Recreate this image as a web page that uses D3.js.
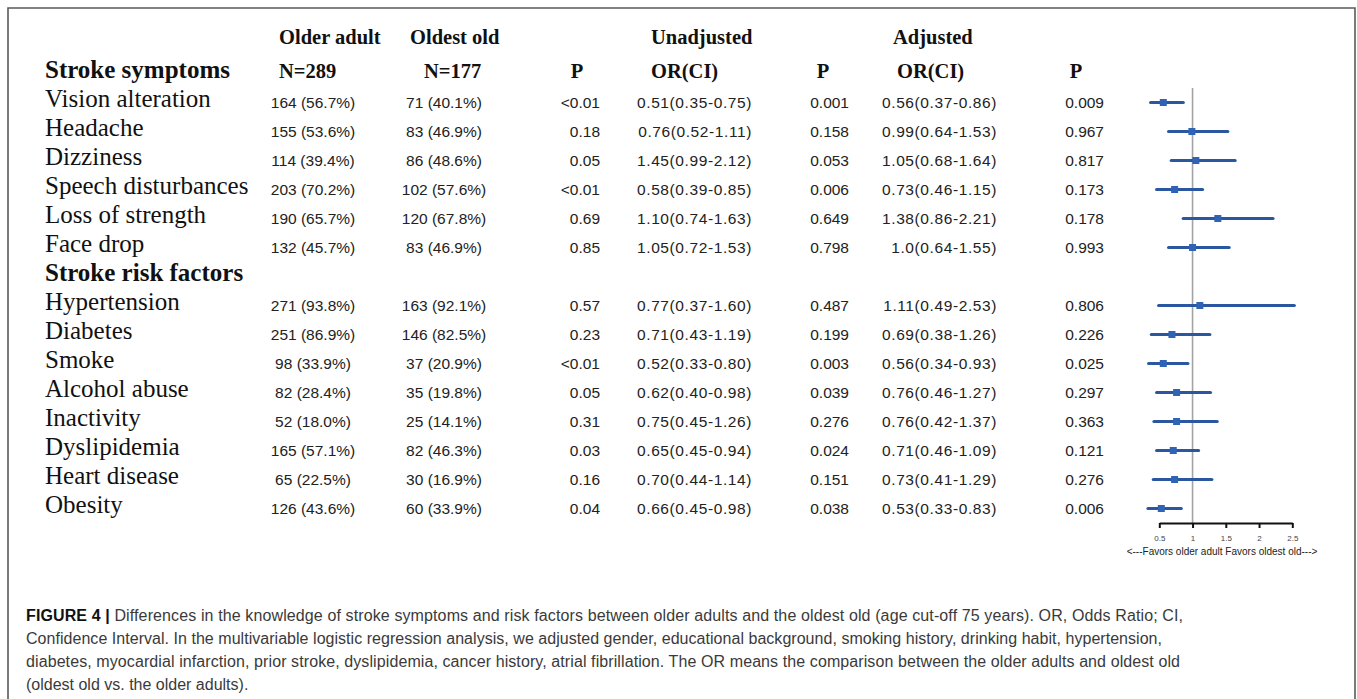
<!DOCTYPE html>
<html>
<head>
<meta charset="utf-8">
<script src="https://cdn.jsdelivr.net/npm/d3@7/dist/d3.min.js"></script>
<style>
  html, body { margin: 0; padding: 0; background: #fff; }
  svg { display: block; }
  .serif { font-family: "Liberation Serif", "Times New Roman", serif; fill: #111; }
  .sans { font-family: "Liberation Sans", Arial, sans-serif; fill: #222; }
  .cap { font-family: "Liberation Sans", Arial, sans-serif; fill: #3a3a3a; }
</style>
</head>
<body>
<svg id="chart" width="1357" height="699"></svg>
<script>
// ---- data ----
const symptoms = ["Vision alteration", "Headache", "Dizziness", "Speech disturbances", "Loss of strength", "Face drop"];
const riskFactors = ["Hypertension", "Diabetes", "Smoke", "Alcohol abuse", "Inactivity", "Dyslipidemia", "Heart disease", "Obesity"];
const sectionTitles = ["Stroke symptoms", "Stroke risk factors"];

const olderAdultCount = [164, 155, 114, 203, 190, 132, 271, 251, 98, 82, 52, 165, 65, 126];
const olderAdultPct = ["56.7", "53.6", "39.4", "70.2", "65.7", "45.7", "93.8", "86.9", "33.9", "28.4", "18.0", "57.1", "22.5", "43.6"];
const oldestOldCount = [71, 83, 86, 102, 120, 83, 163, 146, 37, 35, 25, 82, 30, 60];
const oldestOldPct = ["40.1", "46.9", "48.6", "57.6", "67.8", "46.9", "92.1", "82.5", "20.9", "19.8", "14.1", "46.3", "16.9", "33.9"];
const pCrude = ["<0.01", "0.18", "0.05", "<0.01", "0.69", "0.85", "0.57", "0.23", "<0.01", "0.05", "0.31", "0.03", "0.16", "0.04"];

const unadjOR = ["0.51", "0.76", "1.45", "0.58", "1.10", "1.05", "0.77", "0.71", "0.52", "0.62", "0.75", "0.65", "0.70", "0.66"];
const unadjLo = ["0.35", "0.52", "0.99", "0.39", "0.74", "0.72", "0.37", "0.43", "0.33", "0.40", "0.45", "0.45", "0.44", "0.45"];
const unadjHi = ["0.75", "1.11", "2.12", "0.85", "1.63", "1.53", "1.60", "1.19", "0.80", "0.98", "1.26", "0.94", "1.14", "0.98"];
const unadjP = ["0.001", "0.158", "0.053", "0.006", "0.649", "0.798", "0.487", "0.199", "0.003", "0.039", "0.276", "0.024", "0.151", "0.038"];

const adjOR = ["0.56", "0.99", "1.05", "0.73", "1.38", "1.0", "1.11", "0.69", "0.56", "0.76", "0.76", "0.71", "0.73", "0.53"];
const adjLo = ["0.37", "0.64", "0.68", "0.46", "0.86", "0.64", "0.49", "0.38", "0.34", "0.46", "0.42", "0.46", "0.41", "0.33"];
const adjHi = ["0.86", "1.53", "1.64", "1.15", "2.21", "1.55", "2.53", "1.26", "0.93", "1.27", "1.37", "1.09", "1.29", "0.83"];
const adjP = ["0.009", "0.967", "0.817", "0.173", "0.178", "0.993", "0.806", "0.226", "0.025", "0.297", "0.363", "0.121", "0.276", "0.006"];

const orTicks = [0.5, 1, 1.5, 2, 2.5];
const favorsLabel = "<---Favors older adult  Favors oldest old--->";

const captionLines = [
  ["FIGURE 4 |", " Differences in the knowledge of stroke symptoms and risk factors between older adults and the oldest old (age cut-off 75 years). OR, Odds Ratio; CI,"],
  ["", "Confidence Interval. In the multivariable logistic regression analysis, we adjusted gender, educational background, smoking history, drinking habit, hypertension,"],
  ["", "diabetes, myocardial infarction, prior stroke, dyslipidemia, cancer history, atrial fibrillation. The OR means the comparison between the older adults and oldest old"],
  ["", "(oldest old vs. the older adults)."]
];

// ---- layout ----
const svg = d3.select("#chart");
const W = 1357, H = 699;

// frame around the figure
svg.append("path")
  .attr("d", `M8,${H} L8,8 L1355,8 L1355,${H}`)
  .attr("fill", "none").attr("stroke", "#5a5a5a").attr("stroke-width", 1.6);

const rows = symptoms.concat(riskFactors);
// row slots: the risk-factor heading takes one slot between the two blocks
const slots = [...symptoms, "__risk", ...riskFactors];
const y = d3.scalePoint().domain(slots).range([102.5, 508.5]);
const rowY = i => y(rows[i]);

// column anchors
const cols = {
  label: 45,
  older: 313,
  oldest: 444,
  p1: 600,
  or1: 752,
  p2: 849,
  or2: 997,
  p3: 1104
};

// header
const head = svg.append("g").attr("class", "serif").attr("font-weight", "bold").attr("font-size", 20.5);
const h1 = 44, h2 = 78;
head.append("text").attr("x", 279).attr("y", h1).text("Older adult");
head.append("text").attr("x", 410).attr("y", h1).text("Oldest old");
head.append("text").attr("x", 651).attr("y", h1).text("Unadjusted");
head.append("text").attr("x", 893).attr("y", h1).text("Adjusted");
head.append("text").attr("x", 279).attr("y", h2).text("N=289");
head.append("text").attr("x", 424).attr("y", h2).text("N=177");
head.append("text").attr("x", 577).attr("y", h2).attr("text-anchor", "middle").text("P");
head.append("text").attr("x", 651).attr("y", h2).text("OR(CI)");
head.append("text").attr("x", 823).attr("y", h2).attr("text-anchor", "middle").text("P");
head.append("text").attr("x", 897).attr("y", h2).text("OR(CI)");
head.append("text").attr("x", 1076).attr("y", h2).attr("text-anchor", "middle").text("P");

// section headings
svg.append("text").attr("class", "serif").attr("font-weight", "bold").attr("font-size", 25)
  .attr("x", cols.label).attr("y", h2).text(sectionTitles[0]);
svg.append("text").attr("class", "serif").attr("font-weight", "bold").attr("font-size", 25)
  .attr("x", cols.label).attr("y", y("__risk") - 4 + 8.3).text(sectionTitles[1]);

// row labels
svg.append("g").selectAll("text").data(rows).join("text")
  .attr("class", "serif").attr("font-size", 25)
  .attr("x", cols.label).attr("y", (d, i) => rowY(i) - 4 + 8.3)
  .text(d => d);

// data cells
const cells = svg.append("g").attr("class", "sans").attr("font-size", 15.5);
function column(values, x, anchor, spacing) {
  cells.append("g").selectAll("text").data(values).join("text")
    .attr("x", x).attr("y", (d, i) => rowY(i) + 5.9)
    .attr("text-anchor", anchor)
    .attr("letter-spacing", spacing || null)
    .text(d => d);
}
column(olderAdultCount.map((n, i) => `${n} (${olderAdultPct[i]}%)`), cols.older, "middle");
column(oldestOldCount.map((n, i) => `${n} (${oldestOldPct[i]}%)`), cols.oldest, "middle");
column(pCrude, cols.p1, "end");
column(unadjOR.map((v, i) => `${v}(${unadjLo[i]}-${unadjHi[i]})`), cols.or1, "end", 0.6);
column(unadjP, cols.p2, "end");
column(adjOR.map((v, i) => `${v}(${adjLo[i]}-${adjHi[i]})`), cols.or2, "end", 0.6);
column(adjP, cols.p3, "end");

// ---- forest plot of adjusted odds ratios ----
const x = d3.scaleLinear().domain([0.5, 2.5]).range([1159.3, 1292.3]);
const axisY = 523;

svg.append("line")
  .attr("x1", x(1)).attr("x2", x(1)).attr("y1", 88).attr("y2", axisY)
  .attr("stroke", "#a3a3a3").attr("stroke-width", 1.6);

const forest = svg.append("g");
const est = rows.map((d, i) => ({ or: +adjOR[i], lo: +adjLo[i], hi: +adjHi[i], y: rowY(i) }));
forest.selectAll("line.ci").data(est).join("line")
  .attr("class", "ci")
  .attr("x1", d => x(d.lo)).attr("x2", d => x(d.hi))
  .attr("y1", d => d.y).attr("y2", d => d.y)
  .attr("stroke", "#2a579f").attr("stroke-width", 3.2).attr("stroke-linecap", "round");
forest.selectAll("rect.pt").data(est).join("rect")
  .attr("class", "pt")
  .attr("x", d => x(d.or) - 3.5).attr("y", d => d.y - 3.5)
  .attr("width", 7).attr("height", 7)
  .attr("fill", "#2f63b6");

const axis = svg.append("g").attr("transform", `translate(0,${axisY})`)
  .call(d3.axisBottom(x).tickValues(orTicks).tickFormat(d3.format("")).tickSize(5).tickSizeOuter(0).tickPadding(7));
axis.select(".domain").attr("stroke", "#111").attr("stroke-width", 2);
axis.selectAll(".tick line").attr("stroke", "#111").attr("stroke-width", 2);
axis.selectAll(".tick text").attr("font-family", "Liberation Sans, Arial, sans-serif")
  .attr("font-size", 8).attr("fill", "#444");

svg.append("text").attr("class", "sans").attr("font-size", 10).attr("fill", "#333")
  .attr("x", 1222).attr("y", 555).attr("text-anchor", "middle")
  .text(favorsLabel);

// ---- caption ----
const capG = svg.append("g").attr("class", "cap").attr("font-size", 16);
const capBase = [620.5, 643.5, 666.5, 689.5];
const capWidth = [1157, 1136, 1154, null];
captionLines.forEach((parts, i) => {
  const t = capG.append("text").attr("x", 26).attr("y", capBase[i]);
  if (capWidth[i]) t.attr("textLength", capWidth[i]).attr("lengthAdjust", "spacing");
  if (parts[0]) t.append("tspan").attr("font-weight", "bold").attr("fill", "#111").text(parts[0]);
  t.append("tspan").text(parts[1]);
});
</script>
</body>
</html>
